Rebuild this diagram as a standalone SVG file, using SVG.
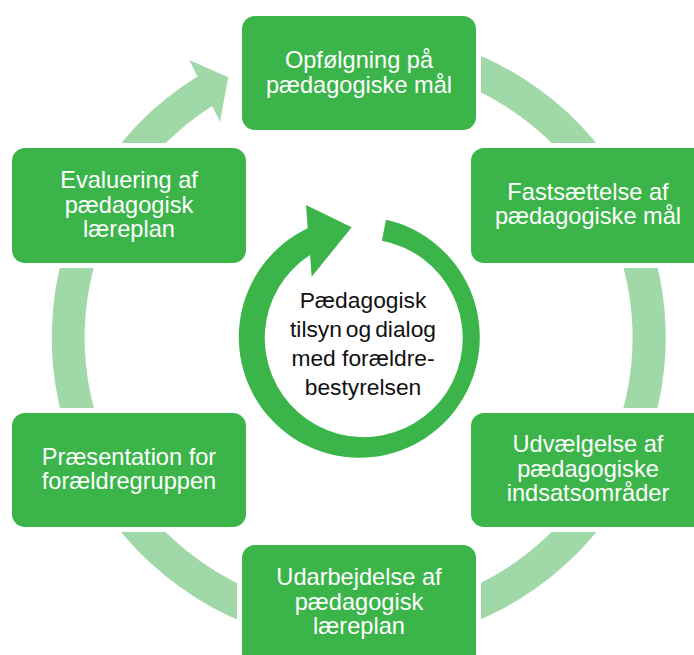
<svg xmlns="http://www.w3.org/2000/svg" width="694" height="655" viewBox="0 0 694 655">
<style>
.node{fill:#3bb54a}
.halo{fill:#ffffff}
.ring{fill:#a0d9a7}
.t{font-family:"Liberation Sans",Arial,sans-serif;font-size:23.6px;fill:#ffffff;text-anchor:middle}
.c{font-family:"Liberation Sans",Arial,sans-serif;font-size:22.8px;fill:#111111;text-anchor:middle}
</style>
<rect width="694" height="655" fill="#ffffff"/>
<g id="connectors">
<path class="ring" d="M305.7,35.2 A307,307 0 1 1 197.4,76.4 L189.3,60 L228.3,77.3 L220,121.7 L212.2,106 A274,274 0 1 0 311.4,67.7 Z"/>
</g>
<g id="n1">
<rect class="halo" x="237" y="11" width="244" height="124" rx="17"/>
<rect class="node" x="242" y="16" width="234" height="114" rx="13"/>
<text class="t" x="359" y="68">Opfølgning på</text>
<text class="t" x="359" y="92.5">pædagogiske mål</text>
</g>
<g id="n2">
<rect class="halo" x="466" y="143" width="240" height="125" rx="17"/>
<path class="node" d="M484,148 H694 V263 H484 A13,13 0 0 1 471,250 V161 A13,13 0 0 1 484,148 Z"/>
<text class="t" x="588" y="199.5">Fastsættelse af</text>
<text class="t" x="588" y="224">pædagogiske mål</text>
</g>
<g id="n3">
<rect class="halo" x="466" y="408" width="240" height="124" rx="17"/>
<path class="node" d="M484,413 H694 V527 H484 A13,13 0 0 1 471,514 V426 A13,13 0 0 1 484,413 Z"/>
<text class="t" x="588" y="452">Udvælgelse af</text>
<text class="t" x="588" y="476.5">pædagogiske</text>
<text class="t" x="588" y="501">indsatsområder</text>
</g>
<g id="n4">
<rect class="halo" x="237" y="540" width="244" height="120" rx="17"/>
<path class="node" d="M255,545 H463 A13,13 0 0 1 476,558 V655 H242 V558 A13,13 0 0 1 255,545 Z"/>
<text class="t" x="359" y="585">Udarbejdelse af</text>
<text class="t" x="359" y="609.5">pædagogisk</text>
<text class="t" x="359" y="634">læreplan</text>
</g>
<g id="n5">
<rect class="halo" x="7" y="408" width="244" height="124" rx="17"/>
<rect class="node" x="12" y="413" width="234" height="114" rx="13"/>
<text class="t" x="129" y="464.5">Præsentation for</text>
<text class="t" x="129" y="489">forældregruppen</text>
</g>
<g id="n6">
<rect class="halo" x="7" y="143" width="244" height="125" rx="17"/>
<rect class="node" x="12" y="148" width="234" height="115" rx="13"/>
<text class="t" x="129" y="188">Evaluering af</text>
<text class="t" x="129" y="212.5">pædagogisk</text>
<text class="t" x="129" y="237">læreplan</text>
</g>
<g id="center">
<path class="node" d="M386,219.7 A120.5,120.5 0 1 1 307.7,228.3 L306,205 L351.7,227.3 L311.7,276.7 L310,255 A99,99 0 1 0 381.9,240.8 Z"/>
<text class="c" x="363" y="308">Pædagogisk</text>
<text class="c" x="363" y="337" word-spacing="-2.4">tilsyn og dialog</text>
<text class="c" x="363" y="365.5">med forældre-</text>
<text class="c" x="363" y="394.5">bestyrelsen</text>
</g>
</svg>
